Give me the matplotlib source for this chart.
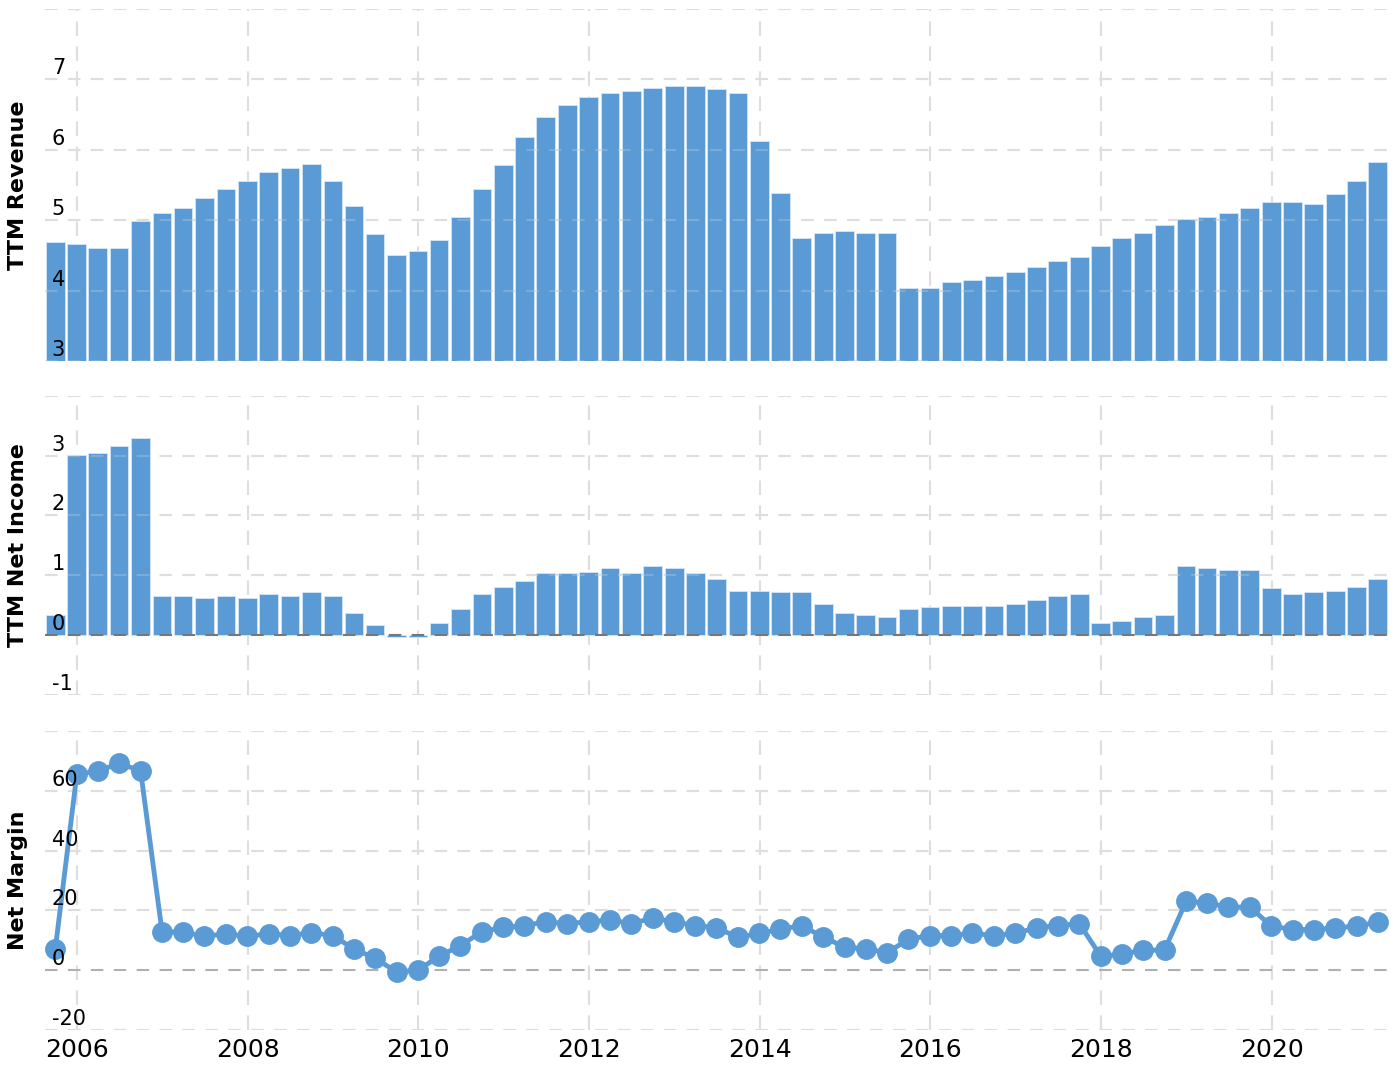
import matplotlib
matplotlib.use('Agg')
import matplotlib.pyplot as plt
import matplotlib.dates as mdates
import matplotlib.transforms as mtransforms
import pandas as pd

# quarter end dates, 2005 Q3 .. 2021 Q1
quarters = pd.date_range('2005-09-30', '2021-03-31', freq='QE')

revenue = [4.69, 4.66, 4.61, 4.61, 4.99, 5.10, 5.18, 5.31, 5.45, 5.56,
           5.69, 5.74, 5.80, 5.56, 5.20, 4.80, 4.50, 4.56, 4.72, 5.04,
           5.45, 5.78, 6.18, 6.47, 6.64, 6.75, 6.80, 6.83, 6.88, 6.91,
           6.91, 6.86, 6.80, 6.12, 5.39, 4.74, 4.82, 4.85, 4.82, 4.82,
           4.04, 4.04, 4.12, 4.15, 4.20, 4.26, 4.34, 4.42, 4.47, 4.64,
           4.74, 4.82, 4.93, 5.01, 5.04, 5.10, 5.18, 5.26, 5.26, 5.23,
           5.37, 5.55, 5.82]

net_income = [0.33, 3.01, 3.05, 3.17, 3.30, 0.65, 0.65, 0.61, 0.65, 0.61,
              0.68, 0.65, 0.71, 0.65, 0.37, 0.17, -0.03, -0.03, 0.20, 0.43,
              0.68, 0.81, 0.90, 1.03, 1.03, 1.06, 1.12, 1.03, 1.15, 1.12,
              1.03, 0.94, 0.74, 0.74, 0.71, 0.71, 0.52, 0.37, 0.33, 0.30,
              0.43, 0.46, 0.49, 0.49, 0.49, 0.52, 0.59, 0.65, 0.68, 0.20,
              0.24, 0.30, 0.33, 1.15, 1.12, 1.09, 1.09, 0.78, 0.68, 0.71,
              0.74, 0.81, 0.94]

net_margin = [7.1, 65.5, 66.6, 69.2, 66.7, 12.8, 12.8, 11.3, 12.2, 11.3,
              12.2, 11.6, 12.5, 11.6, 7.1, 4.0, -0.6, 0.0, 4.7, 8.2,
              12.9, 14.3, 14.9, 16.2, 15.6, 16.2, 16.8, 15.6, 17.4, 16.2,
              14.9, 14.2, 11.0, 12.3, 13.7, 14.9, 11.1, 7.7, 7.1, 5.9,
              10.3, 11.6, 11.6, 12.3, 11.6, 12.3, 14.2, 14.9, 15.6, 4.7,
              5.3, 6.7, 6.7, 23.0, 22.5, 21.1, 21.1, 14.8, 13.6, 13.6,
              14.1, 14.8, 16.0]

rev_grid = [3, 4, 5, 6, 7, 8]
rev_labels = [3, 4, 5, 6, 7]
ni_grid = [-1, 0, 1, 2, 3, 4]
ni_labels = [-1, 0, 1, 2, 3]
nm_grid = [-20, 0, 20, 40, 60, 80]
nm_labels = [-20, 0, 20, 40, 60]

blue = '#5b9bd5'
grid_c = '#dedede'

fig = plt.figure(figsize=(14, 10.73), dpi=100)
left, width = 0.032, 0.964
ax1 = fig.add_axes([left, 0.6636, width, 0.328])
ax2 = fig.add_axes([left, 0.3526, width, 0.2784])
ax3 = fig.add_axes([left, 0.0401, width, 0.2786])

xmin = pd.Timestamp('2005-08-16')
xmax = pd.Timestamp('2021-06-10')


def style(ax, grid, labels, ylabel, zero_c=None):
    ax.set_xlim(xmin, xmax)
    ax.set_ylim(grid[0], grid[-1])
    for s in ax.spines.values():
        s.set_visible(False)
    ax.xaxis.set_major_locator(mdates.YearLocator(2))
    ax.xaxis.set_major_formatter(mdates.DateFormatter('%Y'))
    ax.set_axisbelow(True)
    ax.grid(axis='x', color=grid_c, linestyle=(0, (7, 5)), linewidth=1.5)
    ax.set_yticks(grid)
    ax.tick_params(axis='y', length=0, labelleft=False)
    ax.tick_params(axis='x', length=0, labelbottom=False)
    for g in grid:
        if zero_c and g == 0:
            ax.axhline(0, color=zero_c, linestyle=(0, (6, 5)), linewidth=1.5, zorder=3)
        else:
            ax.axhline(g, color=grid_c, linestyle=(0, (6, 5)), linewidth=1.5, zorder=1)
            ax.axhline(g, color=grid_c, linestyle=(0, (6, 5)), linewidth=1.5,
                       alpha=0.25, zorder=3)
    trans = mtransforms.offset_copy(ax.get_yaxis_transform(), fig=fig, x=7, y=1, units='dots')
    for v in labels:
        ax.text(0, v, str(v), transform=trans, fontsize=15, ha='left', va='bottom', zorder=5)
    ax.set_ylabel(ylabel, fontsize=16, fontweight='bold')
    ax.yaxis.set_label_coords(-0.0125, 0.5)


ax1.bar(quarters, revenue, width=80, color=blue, edgecolor='#d6e6f5', linewidth=0.6, zorder=2)
style(ax1, rev_grid, rev_labels, 'TTM Revenue')

ax2.bar(quarters, net_income, width=80, color=blue, edgecolor='#d6e6f5', linewidth=0.6, zorder=2)
style(ax2, ni_grid, ni_labels, 'TTM Net Income', zero_c='#777777')

ax3.plot(quarters, net_margin, color=blue, linewidth=3.5, marker='o', markersize=14, zorder=4)
style(ax3, nm_grid, nm_labels, 'Net Margin', zero_c='#b0b0b0')
ax3.tick_params(axis='x', labelbottom=True, labelsize=18, pad=6)

fig.savefig('out.png', dpi=100)
